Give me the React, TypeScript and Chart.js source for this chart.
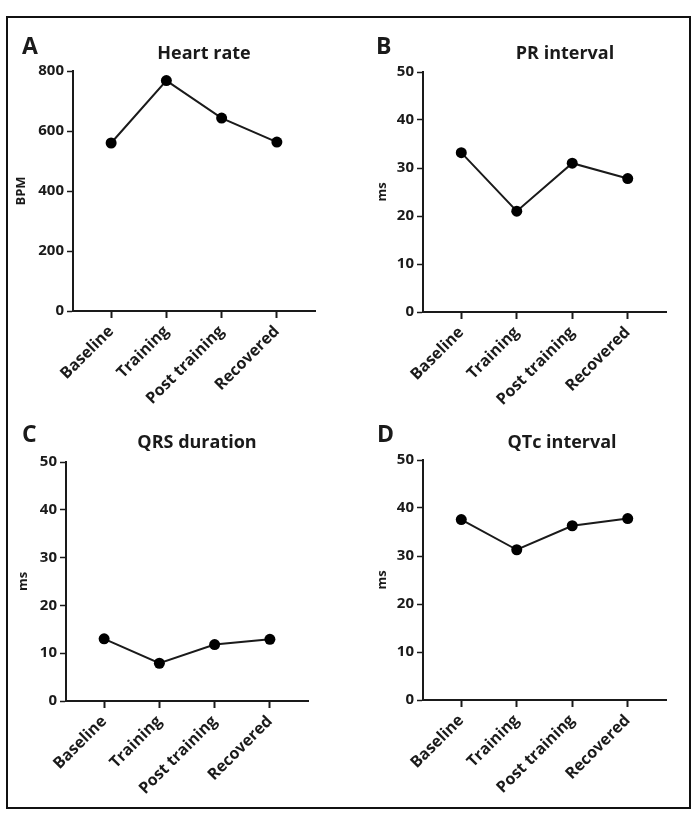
import React, { useEffect, useRef } from "react";
import { Chart, registerables } from "chart.js";

Chart.register(...registerables);

// ---------- data ----------
const categories = ["Baseline", "Training", "Post training", "Recovered"];
const heartRate = [560, 768, 643, 563];
const prInterval = [33.2, 21.0, 31.0, 27.8];
const qrsDuration = [13.0, 7.9, 11.8, 12.9];
const qtcInterval = [37.6, 31.3, 36.3, 37.8];
const bpmTicks = [0, 200, 400, 600, 800];
const msTicks = [0, 10, 20, 30, 40, 50];
const panelLetters = ["A", "B", "C", "D"];
const panelTitles = ["Heart rate", "PR interval", "QRS duration", "QTc interval"];
const yTitles = ["BPM", "ms", "ms", "ms"];

// ---------- style / layout ----------
const FONT = "'Open Sans', sans-serif";
const INK = "#1a1a1a";
const CANVAS_W = 335;
const CANVAS_H = 390;
const AREA_LEFT = 63;
const AREA_TOP = 51;

type Layout = {
  area: [number, number, number, number]; // page coords: left, top, right, bottom
  letter: [number, number];
  title: [number, number];
  yTitleX: number;
};

const layouts: Layout[] = [
  { area: [73, 71, 315, 311], letter: [22, 54], title: [204, 59], yTitleX: 21 },
  { area: [423, 72, 666, 312], letter: [376, 54], title: [565, 59], yTitleX: 382 },
  { area: [66, 462, 308, 701], letter: [22, 442], title: [197, 448], yTitleX: 23 },
  { area: [423, 460, 666, 700], letter: [377, 442], title: [562, 448], yTitleX: 382 },
];

const panelSeries = [heartRate, prInterval, qrsDuration, qtcInterval];
const panelTicks = [bpmTicks, msTicks, msTicks, msTicks];

const labelsPlugin = {
  id: "panelLabels",
  afterDraw(chart: any, _args: any, opts: any) {
    const ctx = chart.ctx;
    ctx.save();
    ctx.fillStyle = INK;
    ctx.textBaseline = "alphabetic";
    ctx.font = `bold 23px ${FONT}`;
    ctx.textAlign = "left";
    ctx.fillText(opts.letter, opts.letterX, opts.letterY);
    ctx.font = `bold 18px ${FONT}`;
    ctx.textAlign = "center";
    ctx.fillText(opts.title, opts.titleX, opts.titleY);
    ctx.restore();
  },
};

function Panel({ index }: { index: number }) {
  const ref = useRef<HTMLCanvasElement | null>(null);
  const lay = layouts[index];
  const L = lay.area[0] - AREA_LEFT;
  const T = lay.area[1] - AREA_TOP;

  useEffect(() => {
    if (!ref.current) return;
    const values = panelSeries[index];
    const ticks = panelTicks[index];
    const areaW = lay.area[2] - lay.area[0];
    const areaH = lay.area[3] - lay.area[1];
    const padRight = CANVAS_W - AREA_LEFT - areaW;
    const xHeight = CANVAS_H - AREA_TOP - areaH;
    const yTitleLH = 13 * 1.2;
    const yTitlePad = lay.yTitleX - L - yTitleLH / 2;

    const chart = new Chart(ref.current, {
      type: "line",
      data: {
        datasets: [
          {
            data: values.map((v, i) => ({ x: i, y: v })),
            borderColor: INK,
            borderWidth: 2,
            pointRadius: 5.5,
            pointBackgroundColor: "#000",
            pointBorderColor: "#000",
            pointBorderWidth: 0,
            fill: false,
            tension: 0,
          },
        ],
      },
      options: {
        animation: false,
        responsive: false,
        devicePixelRatio: 1,
        layout: { padding: { left: 0, top: AREA_TOP, right: padRight, bottom: 0 } },
        plugins: {
          legend: { display: false },
          tooltip: { enabled: false },
          panelLabels: {
            letter: panelLetters[index],
            title: panelTitles[index],
            letterX: lay.letter[0] - L,
            letterY: lay.letter[1] - T,
            titleX: lay.title[0] - L,
            titleY: lay.title[1] - T,
          },
        } as any,
        scales: {
          x: {
            type: "linear",
            min: -0.69,
            max: 3.69,
            afterBuildTicks: (s: any) => {
              s.ticks = categories.map((_, i) => ({ value: i }));
            },
            afterFit: (s: any) => {
              s.height = xHeight;
            },
            ticks: {
              autoSkip: false,
              minRotation: 45,
              maxRotation: 45,
              padding: 4,
              color: INK,
              font: { family: FONT, size: 16, weight: "bold" },
              callback: (v: any) => categories[v as number],
            },
            grid: {
              display: true,
              drawOnChartArea: false,
              drawTicks: true,
              tickLength: 7,
              tickWidth: 2,
              tickColor: INK,
            },
            border: { display: true, color: INK, width: 2 },
          },
          y: {
            min: ticks[0],
            max: ticks[ticks.length - 1],
            afterBuildTicks: (s: any) => {
              s.ticks = ticks.map((v) => ({ value: v }));
            },
            afterFit: (s: any) => {
              s.width = AREA_LEFT;
            },
            ticks: {
              padding: 3,
              color: INK,
              font: { family: FONT, size: 15, weight: "bold" },
            },
            grid: {
              display: true,
              drawOnChartArea: false,
              drawTicks: true,
              tickLength: 6,
              tickWidth: 1.5,
              tickColor: INK,
            },
            border: { display: true, color: INK, width: 2 },
            title: {
              display: true,
              text: yTitles[index],
              color: INK,
              font: { family: FONT, size: 13, weight: "bold", lineHeight: 1.2 },
              padding: { top: yTitlePad, bottom: 0 },
            },
          },
        },
      } as any,
      plugins: [labelsPlugin as any],
    });
    return () => chart.destroy();
  }, [index]);

  return (
    <canvas
      ref={ref}
      width={CANVAS_W}
      height={CANVAS_H}
      style={{ position: "absolute", left: L, top: T, width: CANVAS_W, height: CANVAS_H }}
    />
  );
}

export default function App() {
  return (
    <div style={{ position: "absolute", left: 0, top: 0, width: 700, height: 825, background: "#fff" }}>
      <div
        style={{
          position: "absolute",
          left: 6,
          top: 16,
          width: 685,
          height: 793,
          border: "2.5px solid #111",
          boxSizing: "border-box",
        }}
      />
      {[0, 1, 2, 3].map((i) => (
        <Panel key={i} index={i} />
      ))}
    </div>
  );
}
